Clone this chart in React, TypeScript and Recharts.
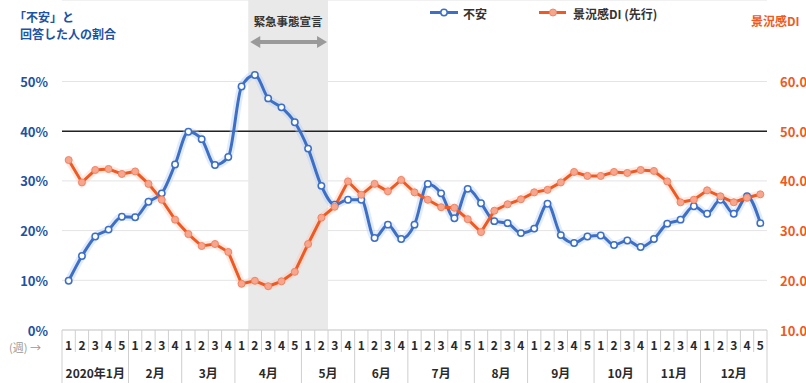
import React from 'react';
import { LineChart, Line, XAxis, YAxis, CartesianGrid, ReferenceArea, ReferenceLine } from 'recharts';

const MONTHS = ['2020年1月', '2月', '3月', '4月', '5月', '6月', '7月', '8月', '9月', '10月', '11月', '12月'];
const WEEKS_PER_MONTH = [5, 4, 4, 5, 4, 4, 5, 4, 5, 4, 4, 5];

// 「不安」と回答した人の割合 (%)
const FUAN = [
  9.9, 14.9, 18.8, 20.2, 22.8,
  22.7, 25.8, 27.5, 33.3,
  39.9, 38.4, 33.2, 34.8,
  49.0, 51.3, 46.6, 44.8, 41.8,
  36.5, 29.0, 25.2, 26.2,
  26.2, 18.5, 21.2, 18.3,
  21.2, 29.4, 27.5, 22.5, 28.4,
  25.5, 21.9, 21.5, 19.5,
  20.4, 25.4, 19.1, 17.5, 18.8,
  19.0, 17.1, 18.0, 16.7,
  18.3, 21.4, 22.2, 24.9,
  23.4, 26.2, 23.4, 26.9, 21.5,
];

// 景況感DI (先行)
const DI = [
  44.2, 39.7, 42.2, 42.4, 41.4,
  41.9, 39.4, 36.2, 32.2,
  29.3, 26.9, 27.3, 25.7,
  19.3, 19.9, 18.8, 19.8, 21.7,
  27.3, 32.6, 34.8, 39.9,
  37.2, 39.4, 37.9, 40.2,
  37.7, 36.2, 34.7, 34.6, 32.3,
  29.7, 34.0, 35.3, 36.3,
  37.7, 38.2, 39.7, 41.8, 41.0,
  41.0, 41.8, 41.6, 42.2,
  42.0, 39.9, 35.7, 36.2,
  38.1, 36.9, 35.7, 36.6, 37.3,
];

const LEFT_TICKS = [0, 10, 20, 30, 40, 50];
const RIGHT_TICKS = [10, 20, 30, 40, 50, 60];
const THRESHOLD = 40;
const EMERGENCY_FROM = 14; // 4月 第2週
const EMERGENCY_TO = 19; // 5月 第2週

type Row = { key: string; week: number; month: string; monthLen: number; fuan: number; di: number; last: boolean };

const data: Row[] = [];
{
  let idx = 0;
  MONTHS.forEach((m, mi) => {
    const n = WEEKS_PER_MONTH[mi];
    for (let w = 1; w <= n; w++) {
      data.push({ key: `${mi}-${w}`, week: w, month: m, monthLen: n, fuan: FUAN[idx], di: DI[idx], last: false });
      idx++;
    }
  });
  data[data.length - 1].last = true;
}
const byKey: Record<string, Row> = {};
data.forEach((d) => (byKey[d.key] = d));

const W = 806;
const H = 383;
const LEFT_W = 62;
const RIGHT_W = 39;
const XAXIS_H = 53;
const PLOT_LEFT = LEFT_W;
const PLOT_RIGHT = W - RIGHT_W;
const PLOT_BOTTOM = H - XAXIS_H;
const BW = (PLOT_RIGHT - PLOT_LEFT) / data.length;

const FONT = '"Noto Sans CJK JP", "Noto Sans", sans-serif';
const BLUE = '#3d6fc6';
const ORANGE = '#ef5a22';
const AXIS_BLUE = '#1c53a3';
const SEP = '#cfcfcf';

const WeekTick = (props: any) => {
  const { x, payload } = props;
  const d = byKey[payload.value];
  if (!d) return null;
  const left = x - BW / 2;
  const right = x + BW / 2;
  return (
    <g>
      <line x1={left} x2={left} y1={PLOT_BOTTOM} y2={d.week === 1 ? H : PLOT_BOTTOM + 22} stroke={SEP} strokeWidth={1} />
      {d.last && <line x1={right} x2={right} y1={PLOT_BOTTOM} y2={H} stroke={SEP} strokeWidth={1} />}
      <text x={x} y={PLOT_BOTTOM + 14} textAnchor="middle" dominantBaseline="central" fontSize={12} fontWeight="bold" fill="#2a2a2a" fontFamily={FONT}>
        {d.week}
      </text>
      {d.week === 1 && (
        <text x={x + ((d.monthLen - 1) / 2) * BW} y={PLOT_BOTTOM + 42} textAnchor="middle" dominantBaseline="central" fontSize={12} fontWeight="bold" fill="#2a2a2a" fontFamily={FONT}>
          {d.month}
        </text>
      )}
    </g>
  );
};

const LeftTick = (props: any) => {
  const { y, payload } = props;
  return (
    <text x={48} y={y} textAnchor="end" dominantBaseline="central" fontSize={13} fontWeight="bold" fill={AXIS_BLUE} fontFamily={FONT}>
      {`${payload.value}%`}
    </text>
  );
};

const RightTick = (props: any) => {
  const { y, payload } = props;
  return (
    <text x={780} y={y} textAnchor="start" dominantBaseline="central" fontSize={13} fontWeight="bold" fill={ORANGE} fontFamily={FONT}>
      {Number(payload.value).toFixed(1)}
    </text>
  );
};

const EmergencyLabel = (props: any) => {
  const vb = props.viewBox || {};
  const x0 = vb.x ?? 0;
  const w = vb.width ?? 0;
  const cx = x0 + w / 2;
  const ay = 42;
  const l = x0 + 2;
  const r = x0 + w - 1;
  return (
    <g>
      <text x={cx} y={21} textAnchor="middle" dominantBaseline="central" fontSize={11.5} fontWeight="bold" fill="#333" fontFamily={FONT}>
        緊急事態宣言
      </text>
      <line x1={l + 8} x2={r - 8} y1={ay} y2={ay} stroke="#9a9a9a" strokeWidth={4} />
      <polygon points={`${l},${ay} ${l + 10},${ay - 6} ${l + 10},${ay + 6}`} fill="#9a9a9a" />
      <polygon points={`${r},${ay} ${r - 10},${ay - 6} ${r - 10},${ay + 6}`} fill="#9a9a9a" />
    </g>
  );
};

const BlueDot = (props: any) => {
  const { cx, cy, index } = props;
  if (cx == null || cy == null) return <g key={index} />;
  return <circle key={index} cx={cx} cy={cy} r={3.2} fill="#ffffff" stroke={BLUE} strokeWidth={1.5} />;
};

const OrangeDot = (props: any) => {
  const { cx, cy, index } = props;
  if (cx == null || cy == null) return <g key={index} />;
  return <circle key={index} cx={cx} cy={cy} r={3.5} fill="#f6a68c" stroke="#f08566" strokeWidth={1} />;
};

export default function App() {
  return (
    <div style={{ position: 'absolute', left: 0, top: 0, width: W, height: H, background: '#fff', fontFamily: FONT }}>
      <LineChart width={W} height={H} data={data} margin={{ top: 0, right: 0, bottom: 0, left: 0 }}>
        <ReferenceArea
          x1={data[EMERGENCY_FROM].key}
          x2={data[EMERGENCY_TO].key}
          yAxisId="l"
          fill="#e9e9e9"
          fillOpacity={1}
          stroke="none"
          label={<EmergencyLabel />}
        />
        <CartesianGrid yAxisId="l" vertical={false} stroke="#e4e4e4" strokeWidth={1} />
        <XAxis
          dataKey="key"
          scale="band"
          interval={0}
          height={XAXIS_H}
          tickLine={false}
          axisLine={{ stroke: SEP }}
          tick={<WeekTick />}
        />
        <YAxis
          yAxisId="l"
          orientation="left"
          width={LEFT_W}
          domain={[0, 66.4]}
          ticks={LEFT_TICKS}
          allowDataOverflow
          axisLine={false}
          tickLine={false}
          tick={<LeftTick />}
        />
        <YAxis
          yAxisId="r"
          orientation="right"
          width={RIGHT_W}
          domain={[10, 76.4]}
          ticks={RIGHT_TICKS}
          allowDataOverflow
          axisLine={false}
          tickLine={false}
          tick={<RightTick />}
        />
        <ReferenceLine yAxisId="l" y={THRESHOLD} stroke="#222" strokeWidth={1.5} />
        <Line yAxisId="l" dataKey="fuan" type="monotone" stroke="#b3cdf0" strokeOpacity={0.4} strokeWidth={8} dot={false} activeDot={false} legendType="none" isAnimationActive={false} />
        <Line yAxisId="r" dataKey="di" type="linear" stroke="#fbc2ae" strokeOpacity={0.35} strokeWidth={8} dot={false} activeDot={false} legendType="none" isAnimationActive={false} />
        <Line yAxisId="l" dataKey="fuan" name="不安" type="monotone" stroke={BLUE} strokeWidth={3} dot={<BlueDot />} activeDot={false} isAnimationActive={false} />
        <Line yAxisId="r" dataKey="di" name="景況感DI (先行)" type="linear" stroke={ORANGE} strokeWidth={3} dot={<OrangeDot />} activeDot={false} isAnimationActive={false} />
      </LineChart>
      <svg width={W} height={H} style={{ position: 'absolute', left: 0, top: 0, pointerEvents: 'none' }}>
        <text x={14} y={16} fontSize={12} fontWeight="bold" fill={AXIS_BLUE} fontFamily={FONT} dominantBaseline="central">「不安」と</text>
        <text x={20} y={33} fontSize={12} fontWeight="bold" fill={AXIS_BLUE} fontFamily={FONT} dominantBaseline="central">回答した人の割合</text>
        <text x={751} y={20} fontSize={12} fontWeight="bold" fill={ORANGE} fontFamily={FONT} dominantBaseline="central">景況感DI</text>
        <text x={9} y={PLOT_BOTTOM + 17} fontSize={11} fill="#999" fontFamily={FONT} dominantBaseline="central">(週) →</text>
        <line x1={430} x2={458} y1={12.5} y2={12.5} stroke={BLUE} strokeWidth={3} />
        <circle cx={444} cy={12.5} r={3.2} fill="#fff" stroke={BLUE} strokeWidth={1.5} />
        <text x={463} y={13} fontSize={12} fontWeight="bold" fill="#333" fontFamily={FONT} dominantBaseline="central">不安</text>
        <line x1={539} x2={566} y1={12.5} y2={12.5} stroke={ORANGE} strokeWidth={3} />
        <circle cx={553} cy={12.5} r={3.5} fill="#f6a68c" stroke="#f08566" strokeWidth={1} />
        <text x={573} y={13} fontSize={12} fontWeight="bold" fill="#333" fontFamily={FONT} dominantBaseline="central">景況感DI (先行)</text>
      </svg>
    </div>
  );
}
